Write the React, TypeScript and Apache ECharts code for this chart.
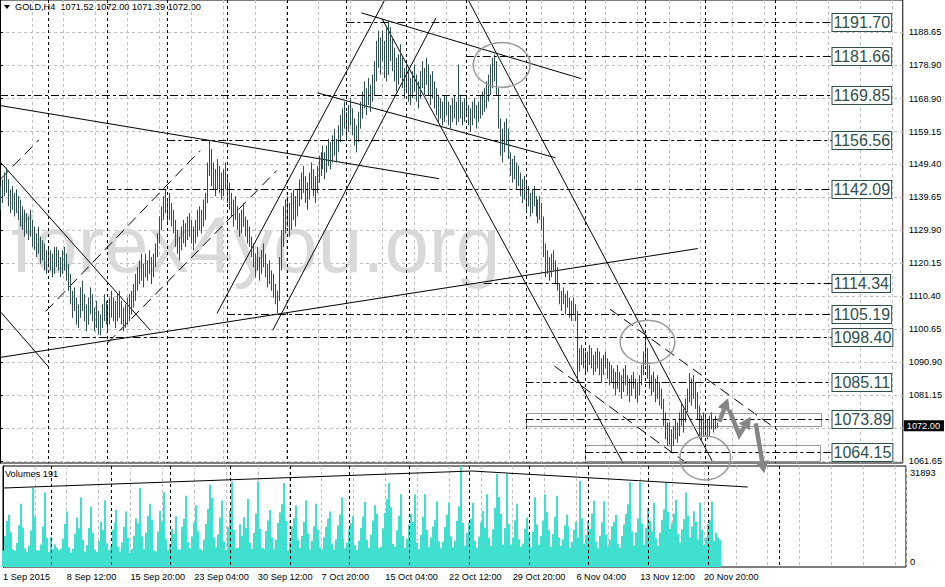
import { useEffect, useRef } from 'react';
import * as echarts from 'echarts';

const FONT = '"Liberation Sans", Arial, sans-serif';
const BAR_COLOR = '#2F4F4F';
const VOLUME_COLOR = '#40E0D0';
const GRID_COLOR = '#C0C0C0';
const ARROW_COLOR = '#858585';
const RING_COLOR = '#9A9A9A';

const HEADER = 'GOLD,H4  1071.52 1072.00 1071.39 1072.00';
const VOLUME_TITLE = 'Volumes 191';
const WATERMARK = 'forex4you.org';
const CURRENT_PRICE = 1072.0;
const VOLUME_MAX = 31893;

// axis extents (bar index / price)
const X_MAX = 453.5;
const PRICE_MIN = 1061.0;
const PRICE_MAX = 1198.1;

const DATE_LABELS = [
  '1 Sep 2015', '8 Sep 12:00', '15 Sep 20:00', '23 Sep 04:00', '30 Sep 12:00', '7 Oct 20:00',
  '15 Oct 04:00', '22 Oct 12:00', '29 Oct 20:00', '6 Nov 04:00', '13 Nov 12:00', '20 Nov 20:00',
];
const PRICE_TICKS = [1061.65, 1071.40, 1081.15, 1090.90, 1100.65, 1110.40, 1120.15, 1129.90, 1139.65, 1149.40, 1159.15, 1168.90, 1178.90, 1188.65];
const PRICE_LABELS = [1061.65, 1081.15, 1090.90, 1100.65, 1110.40, 1120.15, 1129.90, 1139.65, 1149.40, 1159.15, 1168.90, 1178.90, 1188.65];

// H4 bars, lows and highs
const LOWS = [
  1136, 1138, 1140, 1141, 1137, 1135, 1136, 1134, 1135, 1133,
  1131, 1130, 1128, 1129, 1127, 1128, 1125, 1124, 1122, 1123,
  1120, 1121, 1118, 1117, 1119, 1118, 1116, 1117, 1119, 1118,
  1116, 1117, 1118, 1115, 1112, 1108, 1104, 1106, 1102, 1101,
  1104, 1106, 1103, 1100, 1102, 1105, 1103, 1100, 1101, 1099,
  1098.8, 1101, 1103, 1102, 1100, 1102, 1104, 1103, 1101, 1103,
  1104, 1102, 1100, 1101, 1102, 1103, 1105, 1107, 1109, 1112,
  1114, 1115, 1113, 1116, 1115, 1117, 1114, 1116, 1119, 1122,
  1126, 1130, 1133, 1135, 1132, 1133, 1131, 1129, 1125, 1123,
  1121, 1124, 1126, 1125, 1127, 1128, 1126, 1124, 1126, 1128,
  1130, 1129, 1131, 1133, 1138, 1146, 1143, 1142, 1140, 1142,
  1141, 1139, 1140, 1142, 1138, 1136, 1134, 1131, 1133, 1130,
  1128, 1129, 1131, 1128, 1126, 1125, 1122, 1119, 1116, 1118,
  1115, 1117, 1119, 1116, 1113, 1114, 1112, 1110, 1108, 1105.3,
  1109, 1118, 1125, 1129, 1131, 1128, 1130, 1133, 1131, 1134,
  1137, 1139, 1141, 1138, 1136, 1139, 1142, 1140, 1138, 1141,
  1144, 1146, 1148, 1145, 1147, 1149, 1148, 1150, 1152, 1150,
  1153, 1156, 1158, 1160, 1157, 1159, 1161, 1158, 1155, 1153,
  1156, 1160, 1163, 1166, 1164, 1167, 1165, 1168, 1170, 1174,
  1178, 1176, 1180, 1175, 1174, 1176, 1180, 1177, 1174, 1171,
  1173, 1175, 1172, 1169, 1171, 1168, 1167, 1169, 1171, 1168,
  1166, 1169, 1172, 1170, 1173, 1170, 1167, 1169, 1166, 1164,
  1162, 1163, 1161, 1162, 1164, 1161, 1160, 1162, 1163, 1161,
  1162, 1163, 1161, 1162, 1164, 1161, 1159, 1161, 1163, 1160,
  1162, 1163, 1164, 1165, 1166, 1168, 1170, 1172, 1174, 1170,
  1160, 1152, 1150, 1153, 1155, 1151, 1146, 1144, 1145, 1142,
  1143, 1140, 1138, 1139, 1136, 1137, 1134, 1135, 1137, 1134,
  1132, 1133, 1130, 1122, 1116, 1117, 1115, 1116, 1118, 1114,
  1112, 1108, 1106, 1108, 1105, 1107, 1104, 1103, 1105, 1103,
  1085, 1088, 1090, 1089, 1087, 1088, 1090, 1089, 1087, 1088,
  1089, 1087, 1085, 1087, 1089, 1086, 1084, 1085, 1083, 1081,
  1083, 1082, 1080, 1082, 1084, 1081, 1079, 1081, 1083, 1080,
  1079, 1081, 1084, 1087, 1090, 1086, 1083, 1081, 1082, 1079,
  1080, 1078, 1077, 1072, 1068, 1066, 1066.5, 1064.3, 1066, 1068,
  1067, 1069, 1072, 1070, 1073, 1076, 1079, 1078, 1080, 1077,
  1074, 1069, 1067.5, 1069, 1070, 1068, 1069, 1071, 1070, 1071, 1071.4,
];
const HIGHS = [
  1143, 1145, 1147, 1148.5, 1145, 1142, 1143, 1141, 1142, 1140,
  1139, 1137, 1136, 1135, 1134, 1136, 1133, 1131, 1129, 1131,
  1128, 1127, 1126, 1124, 1125, 1124, 1123, 1125, 1125, 1124,
  1122, 1124, 1125, 1123, 1120, 1117, 1112, 1113, 1110, 1108,
  1113, 1115, 1111, 1108, 1110, 1113, 1111, 1107, 1109, 1106,
  1105, 1108, 1111, 1109, 1108, 1110, 1112, 1110, 1109, 1111,
  1112, 1109, 1107, 1108, 1110, 1111, 1112, 1114, 1117, 1119,
  1121, 1123, 1120, 1123, 1121, 1124, 1122, 1123, 1126, 1129,
  1134, 1137, 1140, 1142, 1139, 1141, 1138, 1136, 1133, 1130,
  1128, 1131, 1133, 1132, 1134, 1135, 1133, 1131, 1133, 1136,
  1137, 1136, 1139, 1141, 1150, 1156.5, 1154, 1150, 1148, 1151,
  1149, 1147, 1148, 1150, 1146, 1144, 1141, 1139, 1140, 1137,
  1135, 1136, 1138, 1134, 1133, 1131, 1128, 1126, 1123, 1125,
  1122, 1124, 1126, 1123, 1120, 1121, 1118, 1117, 1114, 1112,
  1122, 1130, 1137, 1139, 1140, 1138, 1141, 1142, 1140, 1142,
  1145, 1147, 1149, 1146, 1144, 1147, 1150, 1148, 1146, 1149,
  1152, 1153, 1155, 1153, 1155, 1157, 1156, 1158, 1160, 1157,
  1161, 1164, 1166, 1168, 1165, 1167, 1169, 1166, 1163, 1161,
  1165, 1168, 1171, 1174, 1172, 1175, 1173, 1176, 1180, 1186,
  1189, 1187, 1189, 1186, 1190, 1191.9, 1190, 1187, 1184, 1181,
  1182, 1185, 1181, 1178, 1180, 1177, 1175, 1177, 1179, 1176,
  1174, 1177, 1180, 1178, 1181, 1179, 1176, 1177, 1174, 1172,
  1170, 1169, 1168, 1170, 1170, 1168, 1167, 1169, 1170, 1168,
  1179, 1170, 1168, 1169, 1170, 1167, 1166, 1168, 1169, 1167,
  1168, 1170, 1171, 1172, 1174, 1176, 1179, 1181, 1182, 1180,
  1172, 1163, 1160, 1162, 1163, 1160, 1153, 1151, 1152, 1150,
  1149, 1147, 1145, 1146, 1144, 1143, 1141, 1142, 1143, 1140,
  1139, 1140, 1138, 1134, 1126, 1124, 1122, 1123, 1124, 1121,
  1119, 1114, 1112, 1113, 1111, 1112, 1110, 1109, 1110, 1108,
  1106, 1095, 1096, 1095, 1094, 1094, 1096, 1095, 1093, 1094,
  1095, 1094, 1092, 1093, 1094, 1092, 1091, 1090, 1089, 1088,
  1090, 1088, 1087, 1089, 1090, 1087, 1086, 1087, 1088, 1086,
  1085, 1087, 1090, 1094, 1098.2, 1095, 1090, 1087, 1088, 1086,
  1087, 1085, 1083, 1080, 1076, 1073, 1073, 1071, 1072, 1074,
  1073, 1076, 1079, 1077, 1080, 1083, 1087.6, 1086, 1087, 1085,
  1082, 1078, 1075, 1076, 1075, 1074, 1075, 1076, 1074, 1075, 1073,
];
const VOLUMES = [
  5200, 9800, 14500, 16500, 11000, 5600, 5100, 7600, 13200, 20000,
  12500, 5900, 4800, 6800, 11500, 25000, 15800, 5200, 5300, 7200,
  12800, 23500, 9200, 4700, 9500, 5600, 7200, 6100, 5300, 5800,
  8900, 13600, 17500, 6200, 4600, 5800, 10400, 15600, 12200, 22000,
  8600, 4900, 6900, 12400, 19000, 10800, 5500, 4700, 8200, 14300,
  11600, 21000, 7400, 5300, 6500, 11800, 13900, 18000, 6300, 4900,
  7800, 12600, 17500, 9200, 4500, 5700, 9900, 15300, 13800, 25000,
  9700, 5700, 10900, 16100, 20000, 14800, 5200, 5000, 11200, 17800,
  14400, 23500, 8800, 5300, 7300, 12100, 10400, 16000, 5600, 5500,
  12700, 15200, 22500, 7800, 5900, 9600, 14100, 19500, 11300, 5700,
  5100, 8700, 13600, 18400, 26000, 21800, 9400, 6200, 10300, 15600,
  21000, 8100, 5400, 12600, 17900, 27000, 11700, 5900, 6100, 13500,
  9900, 15700, 12300, 21500, 7600, 5800, 10800, 16900, 27000, 12100,
  6100, 5700, 11400, 14700, 18000, 9300, 5800, 8600, 13900, 17200,
  19800, 26500, 14600, 5300, 7900, 12800, 15400, 19500, 8700, 6000,
  9800, 14200, 21000, 10600, 5600, 8200, 12900, 20000, 11800, 6200,
  5600, 9400, 12700, 15300, 17500, 7400, 5500, 8800, 13100, 16600,
  22000, 9100, 5900, 7700, 11900, 13800, 16000, 6900, 5400, 8300,
  12400, 15900, 20500, 8600, 6100, 10200, 14700, 19500, 16800, 5900,
  6300, 12200, 17100, 21400, 26500, 18900, 7300, 6300, 11600, 16200,
  23000, 9800, 6000, 8900, 13400, 16800, 14200, 23000, 7600, 5700,
  10100, 15800, 23000, 11700, 6400, 9300, 12800, 14900, 20700, 8100,
  5900, 7900, 12600, 16400, 20300, 9700, 6200, 8400, 14600, 19200,
  31893, 13900, 6800, 10700, 13800, 15200, 20300, 8300, 6100, 9600,
  14100, 17700, 12400, 23000, 9200, 6600, 11900, 18600, 29400, 22100,
  16700, 7100, 12300, 29400, 13600, 7200, 9400, 14800, 20000, 8800,
  6500, 7400, 12100, 15600, 10800, 6200, 11200, 22000, 13400, 7100,
  9800, 14700, 23000, 17300, 11600, 6400, 10400, 15900, 22500, 9300,
  6600, 8700, 13100, 16500, 12900, 6100, 7900, 11800, 14300, 9200,
  27200, 15400, 7300, 10200, 14600, 12100, 16800, 21000, 7900, 5900,
  9900, 14100, 20700, 10300, 6500, 8600, 12900, 14200, 16500, 7300,
  6000, 9800, 13400, 16700, 19800, 26800, 11200, 6800, 10900, 15300,
  26800, 13700, 7100, 12400, 18700, 14600, 11300, 20300, 9100, 6600,
  10800, 14900, 18200, 26800, 17400, 12100, 13800, 16900, 21200, 10400,
  7700, 11900, 15100, 23500, 16300, 9400, 12700, 17600, 14400, 8800,
  20300, 11700, 7000, 9300, 13600, 14900, 20700, 8200, 10800, 9400, 8500,
];

// week separators and one vertical line (bar index)
const SEPARATORS = [24, 54, 84, 114, 144, 174, 204, 234, 264, 294, 324, 354, 389.5];

// horizontal levels: price, first bar
const LEVELS = [1191.70, 1181.66, 1169.85, 1156.56, 1142.09, 1114.34, 1105.19, 1098.40, 1085.11, 1073.89, 1064.15];
const LEVEL_FROM = [174, 234, 0, 84, 54, 243, 114, 24, 264, 264, 294];
const LEVEL_TO = 418;

// trend lines [bar1, price1, bar2, price2]
const SOLID_LINES = [
  [0.5, 1166.8, 220.5, 1145.2],
  [0.5, 1092.3, 350.5, 1124.5],
  [0.5, 1149.9, 75.5, 1100.3],
  [0.5, 1105.6, 24.5, 1089.4],
  [109, 1105.3, 193, 1197.8],
  [137, 1100.3, 219, 1192.8],
  [192, 1192.5, 313, 1061.0],
  [235.5, 1197.8, 358, 1061.3],
  [181.5, 1194.3, 292, 1174.8],
  [159.5, 1170.6, 279, 1151.4],
];
const DASHED_LINES = [
  [0.5, 1145.2, 19.5, 1156.7],
  [23, 1105.9, 100.5, 1153.5],
  [54, 1096.5, 139, 1147.6],
  [306.5, 1106.5, 390.5, 1070.8],
  [278.5, 1089.7, 345.5, 1060.7],
];
// rectangles [bar1, price1, bar2, price2]
const ZONES = [
  [264, 1072.0, 412, 1075.86],
  [294, 1061.6, 412, 1066.3],
];
// ellipses [bar, price, radius in bars, radius in price]
const RINGS = [
  [252, 1178.9, 14.3, 6.65],
  [325.25, 1096.85, 13.75, 6.4],
  [354.25, 1062.5, 12.75, 6.5],
];
// forecast arrows, points [bar, price]
const ARROWS = [
  [[361.35, 1073.2], [365.75, 1080.2]],
  [[366.35, 1076.7], [371.35, 1069.3], [377.15, 1074.7]],
  [[379.65, 1072.7], [383.85, 1058.0]],
];
// trend over volumes [bar, volume]
const VOLUME_TREND = [[0.5, 24950], [235.5, 30310], [374, 25260]];

const App = () => {
  const chartRef = useRef<HTMLDivElement>(null);

  useEffect(() => {
    if (!chartRef.current) return;
    const chart = echarts.init(chartRef.current, null, { renderer: 'svg' });

    const trendSeries = (data: number[][], dash: number[] | null) => ({
      type: 'custom',
      xAxisIndex: 0,
      yAxisIndex: 0,
      clip: true,
      silent: true,
      z: 4,
      data,
      encode: { x: [0, 2], y: [1, 3] },
      renderItem: (_p: any, api: any) => {
        const a = api.coord([api.value(0), api.value(1)]);
        const b = api.coord([api.value(2), api.value(3)]);
        return {
          type: 'line',
          shape: { x1: a[0], y1: a[1], x2: b[0], y2: b[1] },
          style: { stroke: '#000', lineWidth: 1, lineDash: dash },
        };
      },
    });

    const separatorSeries = (idx: number, base: number) => ({
      type: 'custom',
      xAxisIndex: idx,
      yAxisIndex: idx,
      silent: true,
      z: 6,
      data: SEPARATORS.map((b) => [b]),
      encode: { x: 0 },
      renderItem: (params: any, api: any) => {
        const x = Math.round(api.coord([api.value(0), base])[0]) + 0.5;
        const cs = params.coordSys;
        return {
          type: 'line',
          shape: { x1: x, y1: cs.y, x2: x, y2: cs.y + cs.height },
          style: { stroke: '#000', lineWidth: 1, lineDash: [3, 3] },
        };
      },
    });

    const smallText = { fontSize: 9.2, fontFamily: FONT, color: '#000' };

    const option = {
      animation: false,
      backgroundColor: '#fff',
      grid: [
        { left: -1, right: 39, top: -1, height: 464, show: true, borderColor: '#000', borderWidth: 1 },
        { left: -1, right: 39, top: 466, height: 101, show: true, borderColor: '#000', borderWidth: 1 },
      ],
      xAxis: [
        {
          type: 'value', gridIndex: 0, min: 0, max: X_MAX, interval: 16,
          axisLine: { show: false }, axisTick: { show: false }, axisLabel: { show: false },
          splitLine: { show: true, lineStyle: { color: GRID_COLOR, type: [3, 3] } },
        },
        {
          type: 'value', gridIndex: 1, min: 0, max: X_MAX, interval: 16,
          axisLine: { show: false }, axisTick: { show: false },
          axisLabel: {
            ...smallText,
            align: 'left',
            margin: 5,
            formatter: (v: number) => (v % 32 === 0 ? DATE_LABELS[v / 32] ?? '' : ''),
          },
          splitLine: { show: true, lineStyle: { color: GRID_COLOR, type: [3, 3] } },
        },
      ],
      yAxis: [
        {
          type: 'value', gridIndex: 0, position: 'right', min: PRICE_MIN, max: PRICE_MAX,
          axisLine: { show: true, lineStyle: { color: '#000' } },
          axisTick: { show: true, length: 3, customValues: PRICE_TICKS, lineStyle: { color: '#000' } },
          axisLabel: { ...smallText, margin: 6, customValues: PRICE_LABELS, formatter: (v: number) => v.toFixed(2) },
          splitLine: { show: true, lineStyle: { color: GRID_COLOR, type: [3, 3] } },
        },
        {
          type: 'value', gridIndex: 1, position: 'right', min: 0, max: VOLUME_MAX,
          axisLine: { show: true, lineStyle: { color: '#000' } },
          axisTick: { show: false },
          axisLabel: {
            margin: 4,
            customValues: [0, VOLUME_MAX],
            formatter: (v: number) => (v === 0 ? '{b|0}' : `{t|${v}}`),
            rich: {
              t: { ...smallText, padding: [13, 0, 0, 0] },
              b: { ...smallText, padding: [0, 0, 10, 0] },
            },
          },
          splitLine: { show: false },
        },
      ],
      graphic: [
        {
          type: 'text', left: 11, top: 204, z: 1, silent: true,
          style: { text: WATERMARK, font: `80px ${FONT}`, fill: '#D9D9D9' },
        },
        { type: 'polygon', shape: { points: [[4, 5], [10, 5], [7, 9]] }, style: { fill: '#000' } },
        { type: 'text', left: 15, top: 2, style: { text: HEADER, font: `9.2px ${FONT}`, fill: '#000' } },
        { type: 'text', left: 5, top: 469, z: 10, style: { text: VOLUME_TITLE, font: `9.2px ${FONT}`, fill: '#000' } },
      ],
      series: [
        // price bars
        {
          type: 'custom',
          name: 'GOLD,H4',
          xAxisIndex: 0,
          yAxisIndex: 0,
          clip: true,
          z: 5,
          data: LOWS.map((lo, i) => [i, lo, HIGHS[i]]),
          encode: { x: 0, y: [1, 2] },
          renderItem: (_p: any, api: any) => {
            const i = api.value(0);
            const lo = api.coord([i, api.value(1)]);
            const hi = api.coord([i, api.value(2)]);
            const x = Math.round(lo[0]) + 0.5;
            return {
              type: 'line',
              shape: { x1: x, y1: lo[1], x2: x, y2: hi[1] },
              style: { stroke: BAR_COLOR, lineWidth: 1 },
            };
          },
        },
        // volumes
        {
          type: 'custom',
          name: 'Volumes',
          xAxisIndex: 1,
          yAxisIndex: 1,
          z: 3,
          data: VOLUMES.map((v, i) => [i, v]),
          encode: { x: 0, y: 1 },
          renderItem: (_p: any, api: any) => {
            const top = api.coord([api.value(0), api.value(1)]);
            const base = api.coord([api.value(0), 0]);
            const x = Math.round(top[0]) - 1;
            return {
              type: 'rect',
              shape: { x, y: top[1], width: 2, height: base[1] - top[1] },
              style: { fill: VOLUME_COLOR },
            };
          },
        },
        {
          type: 'line',
          xAxisIndex: 1,
          yAxisIndex: 1,
          data: VOLUME_TREND,
          symbol: 'none',
          silent: true,
          z: 7,
          lineStyle: { color: '#000', width: 1 },
        },
        separatorSeries(0, PRICE_MIN),
        separatorSeries(1, 0),
        trendSeries(SOLID_LINES, null),
        trendSeries(DASHED_LINES, [11, 6]),
        // rectangles
        {
          type: 'custom',
          xAxisIndex: 0,
          yAxisIndex: 0,
          silent: true,
          z: 4,
          data: ZONES,
          encode: { x: [0, 2], y: [1, 3] },
          renderItem: (_p: any, api: any) => {
            const a = api.coord([api.value(0), api.value(1)]);
            const b = api.coord([api.value(2), api.value(3)]);
            const x = Math.round(a[0]) + 0.5;
            const y = Math.round(b[1]) + 0.5;
            return {
              type: 'rect',
              shape: { x, y, width: Math.round(b[0] - a[0]), height: Math.round(a[1] - b[1]) },
              style: { fill: 'none', stroke: '#9A9A9A', lineWidth: 1 },
            };
          },
        },
        // levels
        {
          type: 'custom',
          xAxisIndex: 0,
          yAxisIndex: 0,
          silent: true,
          clip: false,
          z: 8,
          data: LEVELS.map((p, i) => [LEVEL_FROM[i], p]),
          encode: { x: 0, y: 1 },
          renderItem: (_p: any, api: any) => {
            const p = api.value(1);
            const a = api.coord([api.value(0), p]);
            const b = api.coord([LEVEL_TO, p]);
            const y = Math.round(a[1]) + 0.5;
            return {
              type: 'group',
              children: [
                {
                  type: 'line',
                  shape: { x1: a[0], y1: y, x2: b[0], y2: y },
                  style: { stroke: '#000', lineWidth: 1, lineDash: [8, 3, 3, 3] },
                },
                {
                  type: 'text',
                  x: Math.round(b[0]) + 0.5,
                  y,
                  style: {
                    text: p.toFixed(2),
                    font: `16px ${FONT}`,
                    fill: BAR_COLOR,
                    align: 'left',
                    verticalAlign: 'middle',
                    backgroundColor: '#fff',
                    borderColor: BAR_COLOR,
                    borderWidth: 1,
                    padding: [1, 1, 0, 1],
                  },
                },
              ],
            };
          },
        },
        // ellipses
        {
          type: 'custom',
          xAxisIndex: 0,
          yAxisIndex: 0,
          silent: true,
          clip: false,
          z: 9,
          data: RINGS,
          encode: { x: 0, y: 1 },
          renderItem: (_p: any, api: any) => {
            const c = api.coord([api.value(0), api.value(1)]);
            const s = api.size([api.value(2), api.value(3)]);
            return {
              type: 'ellipse',
              shape: { cx: c[0], cy: c[1], rx: s[0], ry: s[1] },
              style: { fill: 'none', stroke: RING_COLOR, lineWidth: 1.5 },
            };
          },
        },
        // arrows
        {
          type: 'custom',
          xAxisIndex: 0,
          yAxisIndex: 0,
          silent: true,
          clip: false,
          z: 9,
          data: ARROWS.map((pts) => pts[0]),
          encode: { x: 0, y: 1 },
          renderItem: (params: any, api: any) => {
            const pts = ARROWS[params.dataIndex].map((p) => api.coord(p));
            const n = pts.length;
            const [ax, ay] = pts[n - 2];
            const [bx, by] = pts[n - 1];
            const len = Math.hypot(bx - ax, by - ay);
            const ux = (bx - ax) / len;
            const uy = (by - ay) / len;
            const head = 12;
            const half = 6.5;
            const cx = bx - ux * head;
            const cy = by - uy * head;
            const shaft = pts.slice(0, n - 1).concat([[cx, cy]]);
            return {
              type: 'group',
              children: [
                {
                  type: 'polyline',
                  shape: { points: shaft },
                  style: { stroke: ARROW_COLOR, lineWidth: 4.5, fill: 'none' },
                },
                {
                  type: 'polygon',
                  shape: { points: [[bx, by], [cx - uy * half, cy + ux * half], [cx + uy * half, cy - ux * half]] },
                  style: { fill: ARROW_COLOR },
                },
              ],
            };
          },
        },
        // current price label
        {
          type: 'custom',
          xAxisIndex: 0,
          yAxisIndex: 0,
          silent: true,
          clip: false,
          z: 10,
          data: [[X_MAX, CURRENT_PRICE]],
          encode: { x: 0, y: 1 },
          renderItem: (_p: any, api: any) => {
            const c = api.coord([api.value(0), api.value(1)]);
            return {
              type: 'text',
              x: c[0] + 1,
              y: c[1],
              style: {
                text: CURRENT_PRICE.toFixed(2),
                font: `9.2px ${FONT}`,
                fill: '#fff',
                align: 'left',
                verticalAlign: 'middle',
                backgroundColor: '#000',
                padding: [1, 4, 1, 3],
              },
            };
          },
        },
      ],
    };

    chart.setOption(option as any);

    return () => {
      chart.dispose();
    };
  }, []);

  return (
    <div
      ref={chartRef}
      style={{ position: 'fixed', left: 0, top: 0, width: 945, height: 587, background: '#fff' }}
    />
  );
};

export default App;
